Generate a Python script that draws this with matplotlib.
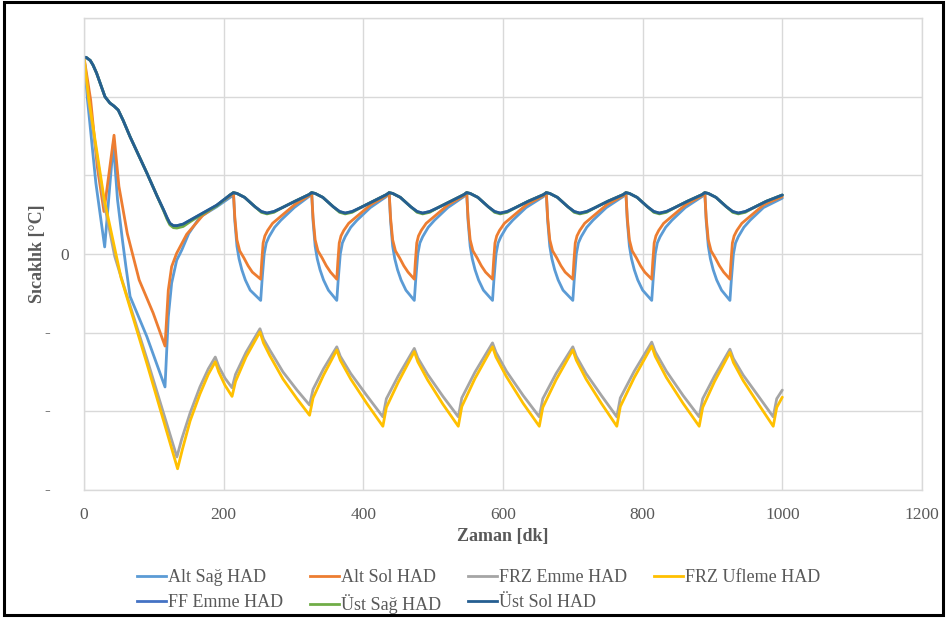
import matplotlib
matplotlib.use("Agg")
import matplotlib.pyplot as plt
from matplotlib.lines import Line2D
from matplotlib.patches import Rectangle

plt.rcParams['font.family'] = ['Liberation Serif', 'DejaVu Serif']

# Sicaklik olcumleri (HAD) - zaman [dk], sicaklik [°C]
t_ust = [0, 3, 9, 13, 18, 30, 37, 43, 49, 56, 66, 90, 105, 114, 119, 123, 128, 133, 142, 152, 166, 190, 209,
         214, 219, 230, 245, 254, 262, 272, 284, 302, 322,
         326, 331, 342, 357, 366, 374, 384, 396, 414, 433,
         437, 442, 453, 468, 477, 485, 495, 507, 525, 544,
         548, 553, 564, 579, 588, 596, 606, 618, 636, 658,
         662, 667, 678, 693, 702, 710, 720, 732, 750, 772,
         776, 781, 792, 807, 816, 824, 834, 846, 864, 885,
         889, 894, 905, 920, 929, 937, 947, 959, 977, 1000]
ust_sol = [25.0, 25.0, 24.6, 24.0, 23.0, 20.0, 19.2, 18.8, 18.3, 17.0, 14.9, 10.3, 7.3, 5.6, 4.6, 3.9, 3.6, 3.6, 3.8, 4.3, 5.0, 6.2, 7.5,
           7.8, 7.7, 7.2, 6.0, 5.4, 5.2, 5.4, 5.9, 6.7, 7.55,
           7.8, 7.7, 7.2, 6.0, 5.4, 5.2, 5.4, 5.9, 6.7, 7.55,
           7.8, 7.7, 7.2, 6.0, 5.4, 5.2, 5.4, 5.9, 6.7, 7.55,
           7.8, 7.7, 7.2, 6.0, 5.4, 5.2, 5.4, 5.9, 6.7, 7.55,
           7.8, 7.7, 7.2, 6.0, 5.4, 5.2, 5.4, 5.9, 6.7, 7.55,
           7.8, 7.7, 7.2, 6.0, 5.4, 5.2, 5.4, 5.9, 6.7, 7.55,
           7.8, 7.7, 7.2, 6.0, 5.4, 5.2, 5.4, 5.9, 6.7, 7.5]
ust_sag = [25.0, 25.0, 24.6, 24.0, 23.0, 20.0, 19.2, 18.8, 18.3, 17.0, 14.9, 10.3, 7.3, 5.5, 4.4, 3.7, 3.35, 3.3, 3.5, 4.1, 4.9, 6.1, 7.5,
           7.8, 7.7, 7.2, 6.0, 5.3, 5.1, 5.3, 5.9, 6.7, 7.55,
           7.8, 7.7, 7.2, 6.0, 5.3, 5.1, 5.3, 5.9, 6.7, 7.55,
           7.8, 7.7, 7.2, 6.0, 5.3, 5.1, 5.3, 5.9, 6.7, 7.55,
           7.8, 7.7, 7.2, 6.0, 5.3, 5.1, 5.3, 5.9, 6.7, 7.55,
           7.8, 7.7, 7.2, 6.0, 5.3, 5.1, 5.3, 5.9, 6.7, 7.55,
           7.8, 7.7, 7.2, 6.0, 5.3, 5.1, 5.3, 5.9, 6.7, 7.55,
           7.8, 7.7, 7.2, 6.0, 5.3, 5.1, 5.3, 5.9, 6.7, 7.5]
ff_emme = [25.0, 25.0, 24.6, 24.0, 23.0, 20.0, 19.2, 18.8, 18.3, 17.0, 14.9, 10.3, 7.3, 5.6, 4.6, 3.9, 3.6, 3.6, 3.8, 4.3, 5.0, 6.2, 7.5,
           7.8, 7.7, 7.2, 6.0, 5.4, 5.2, 5.4, 5.9, 6.7, 7.55,
           7.8, 7.7, 7.2, 6.0, 5.4, 5.2, 5.4, 5.9, 6.7, 7.55,
           7.8, 7.7, 7.2, 6.0, 5.4, 5.2, 5.4, 5.9, 6.7, 7.55,
           7.8, 7.7, 7.2, 6.0, 5.4, 5.2, 5.4, 5.9, 6.7, 7.55,
           7.8, 7.7, 7.2, 6.0, 5.4, 5.2, 5.4, 5.9, 6.7, 7.55,
           7.8, 7.7, 7.2, 6.0, 5.4, 5.2, 5.4, 5.9, 6.7, 7.55,
           7.8, 7.7, 7.2, 6.0, 5.4, 5.2, 5.4, 5.9, 6.7, 7.5]

t_alt_sag = [0, 5, 17, 29.6, 42, 48, 55, 60, 66, 90, 116, 118.4, 120.7, 125.5, 132.7, 140, 150, 166, 190, 211,
             214, 216, 219, 222, 226, 231, 238, 253, 255, 258, 261, 265, 273, 282, 301, 322,
             326, 328, 331, 334, 338, 343, 350, 362, 364, 367, 370, 374, 382, 391, 410, 433,
             437, 439, 442, 445, 449, 454, 461, 473, 475, 478, 481, 485, 493, 502, 521, 544,
             548, 550, 553, 556, 560, 565, 572, 585, 587, 590, 593, 597, 605, 614, 633, 658,
             662, 664, 667, 670, 674, 679, 686, 700, 702, 705, 708, 712, 720, 729, 748, 772,
             776, 778, 781, 784, 788, 793, 800, 813, 815, 818, 821, 825, 833, 842, 861, 885,
             889, 891, 894, 897, 901, 906, 913, 925, 927, 930, 933, 937, 945, 954, 973, 1000]
alt_sag = [25.0, 19.6, 9.0, 0.9, 14.0, 6.9, 1.8, -1.6, -5.4, -10.5, -16.9, -12.2, -8.0, -3.7, -0.8, 0.5, 2.6, 4.7, 6.0, 7.3,
           7.8, 4.2, 1.0, -0.6, -2.0, -3.3, -4.6, -5.9, -3.3, 0.0, 1.4, 2.2, 3.4, 4.3, 5.9, 7.3,
           7.8, 4.2, 1.0, -0.6, -2.0, -3.3, -4.6, -5.9, -3.3, 0.0, 1.4, 2.2, 3.4, 4.3, 5.9, 7.3,
           7.8, 4.2, 1.0, -0.6, -2.0, -3.3, -4.6, -5.9, -3.3, 0.0, 1.4, 2.2, 3.4, 4.3, 5.9, 7.3,
           7.8, 4.2, 1.0, -0.6, -2.0, -3.3, -4.6, -5.9, -3.3, 0.0, 1.4, 2.2, 3.4, 4.3, 5.9, 7.3,
           7.8, 4.2, 1.0, -0.6, -2.0, -3.3, -4.6, -5.9, -3.3, 0.0, 1.4, 2.2, 3.4, 4.3, 5.9, 7.3,
           7.8, 4.2, 1.0, -0.6, -2.0, -3.3, -4.6, -5.9, -3.3, 0.0, 1.4, 2.2, 3.4, 4.3, 5.9, 7.3,
           7.8, 4.2, 1.0, -0.6, -2.0, -3.3, -4.6, -5.9, -3.3, 0.0, 1.4, 2.2, 3.4, 4.3, 5.9, 7.1]

t_alt_sol = [0, 9.5, 19, 28.6, 43, 50, 62, 79, 99, 116, 118.4, 120.7, 125.5, 132.7, 147, 170, 195, 211,
             214, 216, 219, 223, 229, 235, 241, 253, 254.5, 256.5, 259, 263, 270, 278, 302, 322,
             326, 328, 331, 335, 341, 347, 353, 362, 363.5, 365.5, 368, 372, 379, 387, 411, 433,
             437, 439, 442, 446, 452, 458, 464, 473, 474.5, 476.5, 479, 483, 490, 498, 522, 544,
             548, 550, 553, 557, 563, 569, 575, 585, 586.5, 588.5, 591, 595, 602, 610, 634, 658,
             662, 664, 667, 671, 677, 683, 689, 700, 701.5, 703.5, 706, 710, 717, 725, 749, 772,
             776, 778, 781, 785, 791, 797, 803, 813, 814.5, 816.5, 819, 823, 830, 838, 862, 885,
             889, 891, 894, 898, 904, 910, 916, 925, 926.5, 928.5, 931, 935, 942, 950, 974, 1000]
alt_sol = [25.0, 19.6, 11.1, 5.4, 15.1, 8.6, 2.6, -3.3, -7.5, -11.7, -8.0, -4.6, -1.6, 0.1, 2.5, 4.9, 6.5, 7.5,
           7.8, 4.6, 1.8, 0.4, -0.5, -1.5, -2.3, -3.2, -1.0, 1.4, 2.3, 3.0, 3.9, 4.5, 6.3, 7.4,
           7.8, 4.6, 1.8, 0.4, -0.5, -1.5, -2.3, -3.2, -1.0, 1.4, 2.3, 3.0, 3.9, 4.5, 6.3, 7.4,
           7.8, 4.6, 1.8, 0.4, -0.5, -1.5, -2.3, -3.2, -1.0, 1.4, 2.3, 3.0, 3.9, 4.5, 6.3, 7.4,
           7.8, 4.6, 1.8, 0.4, -0.5, -1.5, -2.3, -3.2, -1.0, 1.4, 2.3, 3.0, 3.9, 4.5, 6.3, 7.4,
           7.8, 4.6, 1.8, 0.4, -0.5, -1.5, -2.3, -3.2, -1.0, 1.4, 2.3, 3.0, 3.9, 4.5, 6.3, 7.4,
           7.8, 4.6, 1.8, 0.4, -0.5, -1.5, -2.3, -3.2, -1.0, 1.4, 2.3, 3.0, 3.9, 4.5, 6.3, 7.4,
           7.8, 4.6, 1.8, 0.4, -0.5, -1.5, -2.3, -3.2, -1.0, 1.4, 2.3, 3.0, 3.9, 4.5, 6.3, 7.3]

t_frz_emme = [0, 7, 29, 44, 53, 90, 133, 140, 152, 166, 178, 188, 193, 202, 212, 217, 232, 252,
              257, 266, 285, 305, 323, 328, 343, 362, 367, 382, 405, 428, 433, 450, 473,
              478, 492, 514, 536, 541, 560, 585, 590, 605, 629, 652, 657, 676, 700,
              705, 719, 741, 763, 768, 788, 813, 818, 834, 858, 881, 886, 903, 925,
              930, 944, 966, 987, 992, 1000]
frz_emme = [25.0, 19.2, 6.4, -0.3, -2.9, -13.3, -25.8, -23.5, -20.2, -16.9, -14.6, -13.1, -14.3, -15.8, -17.0, -15.3, -12.5, -9.5,
            -10.8, -12.2, -15.0, -17.3, -19.2, -17.2, -14.6, -11.8, -13.0, -15.2, -18.0, -20.7, -18.4, -15.5, -12.0,
            -13.2, -15.3, -18.1, -20.7, -18.3, -15.0, -11.3, -12.5, -14.9, -18.0, -20.7, -18.4, -15.2, -11.8,
            -13.0, -15.2, -18.0, -20.7, -18.3, -14.9, -11.2, -12.4, -14.9, -18.0, -20.7, -18.4, -15.5, -12.1,
            -13.3, -15.4, -18.1, -20.7, -18.4, -17.3]

t_frz_ufleme = [0, 7, 29, 45, 53, 90, 134, 141, 152, 166, 178, 188, 193, 202, 212, 217, 232, 252,
                257, 266, 285, 305, 323, 328, 343, 362, 367, 382, 405, 428, 433, 450, 473,
                478, 492, 514, 536, 541, 560, 585, 590, 605, 629, 652, 657, 676, 700,
                705, 719, 741, 763, 768, 788, 813, 818, 834, 858, 881, 886, 903, 925,
                930, 944, 966, 987, 992, 1000]
frz_ufleme = [25.0, 19.6, 6.9, 0.3, -3.0, -13.9, -27.3, -24.8, -21.2, -17.8, -15.3, -13.7, -15.0, -16.7, -18.1, -16.2, -13.1, -9.9,
              -11.3, -12.9, -15.9, -18.4, -20.5, -18.3, -15.4, -12.2, -13.5, -15.9, -19.0, -21.9, -19.5, -16.3, -12.4,
              -13.7, -16.0, -19.1, -21.9, -19.4, -15.8, -11.8, -13.1, -15.6, -19.0, -21.9, -19.5, -16.0, -12.2,
              -13.5, -15.9, -19.0, -21.9, -19.4, -15.7, -11.7, -13.0, -15.7, -19.0, -21.9, -19.5, -16.2, -12.5,
              -13.8, -16.1, -19.1, -21.9, -19.5, -18.2]

x_ticks = [0, 200, 400, 600, 800, 1000, 1200]
y_ticks = [-30, -20, -10, 0, 10, 20, 30]
y_ticklabels = ['', '', '', '0', '', '', '']

# (etiket, zaman, deger, renk) - cizim sirasi
series = [
    ('Alt Sağ HAD', t_alt_sag, alt_sag, '#5B9BD5'),
    ('Alt Sol HAD', t_alt_sol, alt_sol, '#ED7D31'),
    ('FRZ Emme HAD', t_frz_emme, frz_emme, '#A5A5A5'),
    ('FRZ Ufleme HAD', t_frz_ufleme, frz_ufleme, '#FFC000'),
    ('FF Emme HAD', t_ust, ff_emme, '#4472C4'),
    ('Üst Sağ HAD', t_ust, ust_sag, '#70AD47'),
    ('Üst Sol HAD', t_ust, ust_sol, '#255E91'),
]

text_color = '#595959'
grid_color = '#D9D9D9'

fig = plt.figure(figsize=(9.46, 6.19), dpi=100)
ax = fig.add_axes([0.0888, 0.2084, 0.8858, 0.7625])

for label, t, v, c in series:
    ax.plot(t, v, color=c, linewidth=2.0, label=label,
            solid_joinstyle='round', solid_capstyle='round')

ax.set_xlim(0, 1200)
ax.set_ylim(-30, 30)
ax.set_xticks(x_ticks)
ax.set_yticks(y_ticks)
ax.set_yticklabels(y_ticklabels)
ax.grid(True, color=grid_color, linewidth=1.0)
ax.set_axisbelow(True)
for s in ax.spines.values():
    s.set_color(grid_color)
    s.set_linewidth(1.0)
ax.tick_params(axis='both', length=0, labelsize=12.5, labelcolor=text_color)
ax.tick_params(axis='x', pad=12)
ax.tick_params(axis='y', pad=11)

# negatif eksen etiketlerinde sadece isaret kaliyor
for v in [-10, -20, -30]:
    ax.annotate('-', xy=(0, v), xycoords=('axes fraction', 'data'),
                xytext=(-40, 0), textcoords='offset pixels',
                ha='left', va='center', fontsize=12.5, color=text_color)

ax.set_xlabel('Zaman [dk]', fontsize=13, fontweight='bold', color=text_color, labelpad=4)
ax.set_ylabel('Sıcaklık [°C]', fontsize=13, fontweight='bold', color=text_color, labelpad=10)

# legend satir satir: sutun bazli doldurma icin yeniden siralama
handles = [Line2D([], [], color=c, linewidth=2.0) for _, _, _, c in series]
labels = [s[0] for s in series]
order = [0, 4, 1, 5, 2, 6, 3]
fig.legend([handles[i] for i in order], [labels[i] for i in order],
           ncol=4, loc='upper center', bbox_to_anchor=(0.506, 0.092),
           frameon=False, fontsize=13, labelcolor=text_color,
           handlelength=1.6, handletextpad=0.1, columnspacing=1.5,
           labelspacing=0.45, borderaxespad=0)

fig.add_artist(Rectangle((0.004, 0.007), 0.993, 0.99, transform=fig.transFigure,
                         fill=False, linewidth=2.2, edgecolor='black'))

fig.savefig('out.png', dpi=100)
